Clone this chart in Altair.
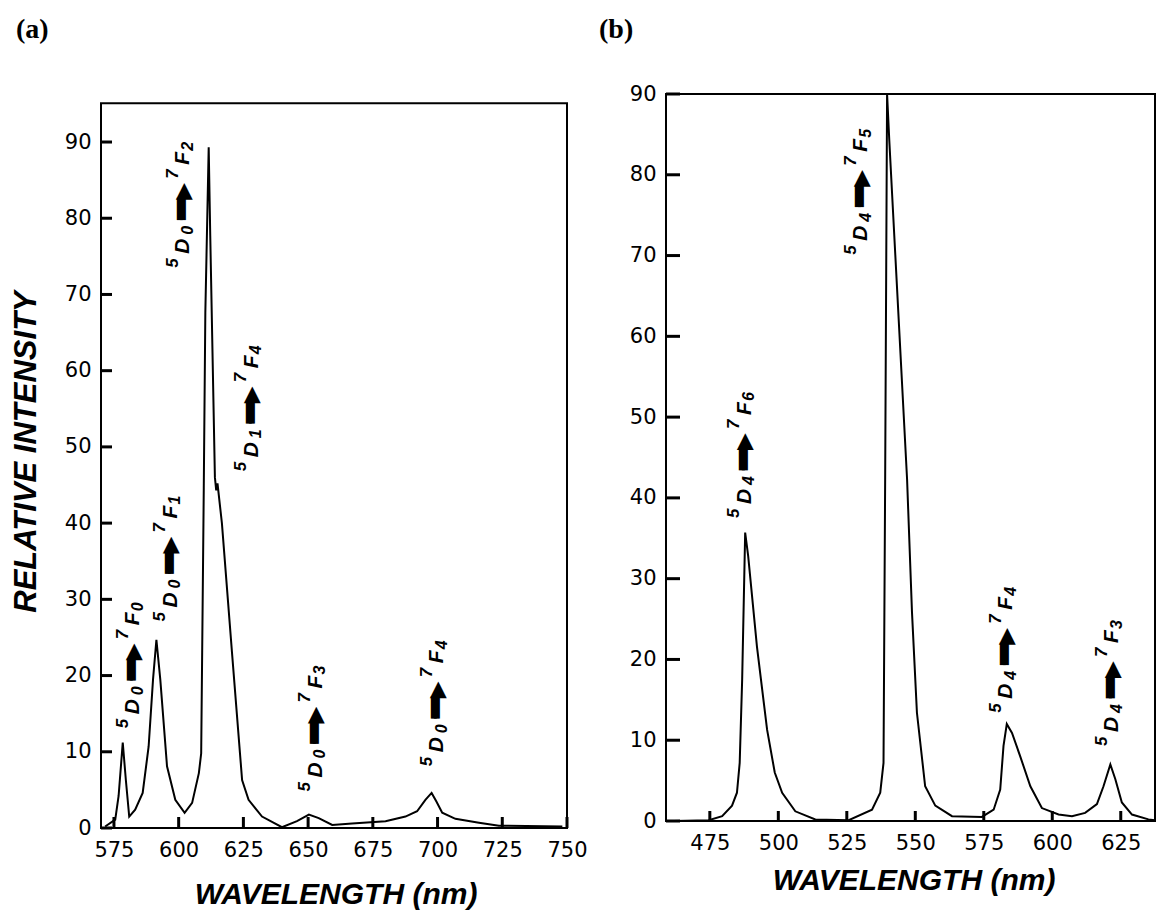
import altair as alt
import pandas as pd

# ---------------- panel (a) : Eu3+ emission spectrum ----------------
a_wl = [571.6, 575.5, 576.8, 578.4, 579.6, 580.9, 583.2, 586.1, 588.4, 590.1,
        591.4, 592.9, 595.5, 598.7, 602.3, 605.2, 607.8, 608.7, 609.7, 610.3,
        611.6, 612.2, 614.0, 614.5, 615.0, 616.7, 620.6, 624.5, 627.0, 632.2,
        639.9, 645.7, 650.3, 654.1, 659.3, 667.0, 679.9, 687.6, 692.1, 695.3,
        697.7, 699.5, 701.8, 706.9, 716.0, 723.7, 748.2]
a_int = [0.2, 1.1, 4.2, 11.2, 6.3, 1.5, 2.4, 4.6, 10.7, 19.5,
         24.7, 19.5, 8.1, 3.7, 2.0, 3.3, 7.2, 9.8, 44.6, 67.6,
         89.3, 77.7, 46.0, 44.3, 45.2, 40.0, 23.0, 6.3, 3.7, 1.5,
         0.1, 0.9, 1.75, 1.3, 0.4, 0.6, 0.9, 1.5, 2.2, 3.7,
         4.6, 3.5, 2.0, 1.2, 0.7, 0.3, 0.2]

a_lab_wl = [580.7, 595.2, 600.0, 626.4, 651.2, 698.2]
a_lab_y = [13.1, 27.1, 73.5, 46.8, 4.8, 8.1]
a_lab_d = ["0", "0", "0", "1", "0", "0"]
a_lab_f = ["0", "1", "2", "4", "3", "4"]

a_xticks = [575, 600, 625, 650, 675, 700, 725, 750]
a_yticks = [0, 10, 20, 30, 40, 50, 60, 70, 80, 90]

# ---------------- panel (b) : Tb3+ emission spectrum ----------------
b_wl = [461.9, 474.6, 479.5, 483.1, 484.9, 485.9, 486.8, 487.9, 489.0, 492.2,
        495.9, 498.7, 501.4, 506.2, 513.5, 525.7, 534.2, 537.2, 538.4, 539.0,
        539.7, 540.5, 547.0, 548.8, 550.6, 553.6, 557.3, 563.4, 574.3, 578.6,
        581.0, 582.2, 583.4, 585.3, 588.3, 592.0, 596.2, 602.3, 607.2, 612.0,
        616.3, 618.7, 621.2, 623.0, 625.4, 629.1, 635.1, 637.5]
b_int = [0.0, 0.1, 0.6, 1.9, 3.5, 7.2, 17.5, 35.7, 32.8, 21.6,
         11.3, 6.0, 3.5, 1.2, 0.2, 0.1, 1.4, 3.5, 7.2, 42.3,
         90.0, 84.3, 42.3, 25.8, 13.4, 4.3, 1.9, 0.6, 0.5, 1.4,
         3.9, 9.3, 12.0, 10.9, 8.0, 4.3, 1.6, 0.8, 0.6, 1.0,
         2.1, 4.3, 7.0, 5.2, 2.3, 0.8, 0.2, 0.1]

b_lab_wl = [486.1, 528.7, 581.6, 620.3]
b_lab_y = [37.5, 70.1, 13.4, 9.3]
b_lab_d = ["4", "4", "4", "4"]
b_lab_f = ["6", "5", "4", "3"]

b_xticks = [475, 500, 525, 550, 575, 600, 625]
b_yticks = [0, 10, 20, 30, 40, 50, 60, 70, 80, 90]

FONT = "Liberation Sans"
TICKFONT = "DejaVu Sans"
SYM = "DejaVu Sans"


def panel(wl, inten, lab_wl, lab_y, lab_d, lab_f, xdom, ydom, frame_top, W, H,
          xticks, yticks, xtick_len, ytick_len, tag, tag_xy, xtitle_xy, ytitle_xy=None):
    spec = pd.DataFrame({"wl": wl, "y": inten})
    labels = pd.DataFrame({"wl": lab_wl, "y": lab_y, "d": lab_d, "f": lab_f})

    x_enc = alt.X("wl:Q",
                  scale=alt.Scale(domain=xdom, nice=False, zero=False),
                  axis=alt.Axis(values=xticks, title=None, grid=False, ticks=False,
                                domain=False, labelFont=TICKFONT, labelFontSize=21,
                                labelColor="black", labelPadding=11,
                                labelFlush=False, format="d"))
    y_enc = alt.Y("y:Q",
                  scale=alt.Scale(domain=ydom, nice=False, zero=True),
                  axis=alt.Axis(values=yticks, title=None, grid=False, ticks=False,
                                domain=False, labelFont=TICKFONT, labelFontSize=21,
                                labelColor="black", labelPadding=10, format="d"))

    # pixel length of the inward tick marks, expressed in data units
    xu = (xdom[1] - xdom[0]) / W
    yu = (ydom[1] - ydom[0]) / H

    layers = []
    frame = pd.DataFrame({"wl": [xdom[0]], "wl2": [xdom[1]], "y": [0], "y2": [frame_top]})
    layers.append(alt.Chart(frame).mark_rect(fillOpacity=0, stroke="black", strokeWidth=2)
                  .encode(x=x_enc, x2="wl2:Q", y=y_enc, y2="y2:Q"))
    layers.append(alt.Chart(spec).mark_line(color="black", strokeWidth=2, clip=True)
                  .encode(x=x_enc, y=y_enc))

    xt_df = pd.DataFrame({"wl": [float(t) for t in xticks],
                          "y": [0.0] * len(xticks),
                          "y2": [xtick_len * yu] * len(xticks)})
    layers.append(alt.Chart(xt_df).mark_rule(color="black", strokeWidth=3)
                  .encode(x=x_enc, y=y_enc, y2="y2:Q"))
    yt_df = pd.DataFrame({"y": [float(t) for t in yticks],
                          "wl": [float(xdom[0])] * len(yticks),
                          "wl2": [xdom[0] + ytick_len * xu] * len(yticks)})
    layers.append(alt.Chart(yt_df).mark_rule(color="black", strokeWidth=3)
                  .encode(x=x_enc, x2="wl2:Q", y=y_enc))

    base = alt.Chart(labels).encode(x=x_enc, y=y_enc)

    def piece(size, dx, dy, text=None, field=None, font=FONT, styled=True,
              baseline="alphabetic"):
        kw = dict(angle=270, align="left", baseline=baseline, dx=dx, dy=dy,
                  font=font, fontSize=size, color="black")
        if styled:
            kw["fontStyle"] = "italic"
            kw["fontWeight"] = "bold"
        if text is not None:
            kw["text"] = text
        m = base.mark_text(**kw)
        if field is not None:
            m = m.encode(text=alt.Text(f"{field}:N"))
        return m

    layers += [
        piece(17, 0, -1, text="5"),
        piece(21, 14, 10.5, text="D"),
        piece(16, 33, 14, field="d"),
        piece(36, 48, 2.5, text="\u2501", font=SYM, styled=False, baseline="middle"),
        piece(36, 48, 5.5, text="\u2501", font=SYM, styled=False, baseline="middle"),
        piece(22, 68, 4, text="\u25b6", font=SYM, styled=False, baseline="middle"),
        piece(17, 89, -1, text="7"),
        piece(21, 103, 10.5, text="F"),
        piece(16, 117, 14, field="f"),
    ]

    one = pd.DataFrame({"t": [tag]})
    layers.append(alt.Chart(one).mark_text(font="Liberation Serif", fontWeight="bold",
                                           fontSize=28, align="left", color="black",
                                           baseline="alphabetic")
                  .encode(x=alt.value(tag_xy[0]), y=alt.value(tag_xy[1]), text="t:N"))
    xt = pd.DataFrame({"t": ["WAVELENGTH (nm)"]})
    layers.append(alt.Chart(xt).mark_text(font=FONT, fontWeight="bold", fontStyle="italic",
                                          fontSize=30, align="center", color="black",
                                          baseline="alphabetic")
                  .encode(x=alt.value(xtitle_xy[0]), y=alt.value(xtitle_xy[1]), text="t:N"))
    if ytitle_xy is not None:
        yt = pd.DataFrame({"t": ["RELATIVE INTENSITY"]})
        layers.append(alt.Chart(yt).mark_text(font=FONT, fontWeight="bold", fontStyle="italic",
                                              fontSize=31, align="center", angle=270,
                                              color="black", baseline="alphabetic")
                      .encode(x=alt.value(ytitle_xy[0]), y=alt.value(ytitle_xy[1]), text="t:N"))

    return alt.layer(*layers).properties(width=W, height=H)


pa = panel(a_wl, a_int, a_lab_wl, a_lab_y, a_lab_d, a_lab_f,
           [570, 750], [0, 96.3], 95.1, 466, 734, a_xticks, a_yticks, 11, 11,
           "(a)", (-85, -56), (235, 810), (-65, 358))
pb = panel(b_wl, b_int, b_lab_wl, b_lab_y, b_lab_d, b_lab_f,
           [459, 637.5], [0, 90], 90, 489, 727, b_xticks, b_yticks, 10, 14,
           "(b)", (-67, -56), (248, 796))

chart = (alt.hconcat(pa, pb, spacing=11)
         .properties(padding={"left": 11, "top": 16, "right": 0, "bottom": 0},
                     background="white")
         .configure_view(stroke=None))

chart.save("out.html", embed_options={"renderer": "svg", "actions": False})
